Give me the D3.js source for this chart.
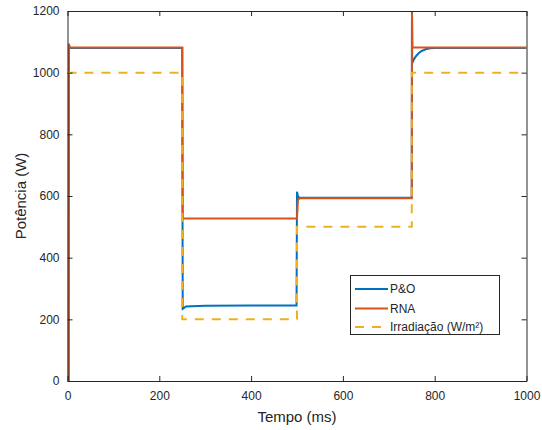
<!DOCTYPE html>
<html>
<head>
<meta charset="utf-8">
<script src="https://cdn.jsdelivr.net/npm/d3@7"></script>
<style>
  body { margin: 0; background: #fff; }
  svg { display: block; }
  text { font-family: "Liberation Sans", Arial, Helvetica, sans-serif; }
</style>
</head>
<body>
<svg id="chart" width="542" height="430"></svg>
<script>
// ---- data (time in ms, power in W) ----
const seriesNames = ["P&O", "RNA", "Irradiação (W/m²)"];
const poTime  = [2.5, 3, 5, 250, 251, 253, 258, 300, 400, 499, 500, 502, 505, 750, 750.5, 751, 755, 760, 765, 770, 780, 790, 800, 1000];
const poValue = [0, 1090, 1080, 1080, 234, 236, 242, 244, 245, 245, 614, 600, 594, 594, 1260, 1030, 1044, 1055, 1063, 1069, 1076, 1079, 1080, 1080];
const rnaTime  = [2.5, 3, 5, 250, 251, 500, 502, 505, 750, 750.5, 751.5, 1000];
const rnaValue = [0, 1094, 1082, 1082, 527, 527, 585, 593, 593, 1195, 1082, 1082];
const irrTime  = [0, 250, 250, 500, 500, 750, 750, 1000];
const irrValue = [1000, 1000, 200, 200, 500, 500, 1000, 1000];
const xTicks = [0, 200, 400, 600, 800, 1000];
const yTicks = [0, 200, 400, 600, 800, 1000, 1200];
const xLabel = "Tempo (ms)";
const yLabel = "Potência (W)";

const colors = ["#0072BD", "#D95319", "#EDB120"];

const svg = d3.select("#chart");
const pL = 67.5, pR = 526.5, pT = 11, pB = 381;
const x = d3.scaleLinear().domain([0, 1000]).range([pL, pR]);
const y = d3.scaleLinear().domain([0, 1200]).range([pB, pT]);

svg.append("defs").append("clipPath").attr("id", "clip")
  .append("rect").attr("x", pL).attr("y", pT)
  .attr("width", pR - pL).attr("height", pB - pT);

const toPts = (t, v) => t.map((d, i) => [d, v[i]]);
const line = d3.line().x(d => x(d[0])).y(d => y(d[1]));

const g = svg.append("g").attr("clip-path", "url(#clip)");
g.append("path").attr("d", line(toPts(poTime, poValue)))
  .attr("fill", "none").attr("stroke", colors[0]).attr("stroke-width", 2);
g.append("path").attr("d", line(toPts(rnaTime, rnaValue)))
  .attr("fill", "none").attr("stroke", colors[1]).attr("stroke-width", 2);
g.append("path").attr("d", line(toPts(irrTime, irrValue)))
  .attr("fill", "none").attr("stroke", colors[2]).attr("stroke-width", 2)
  .attr("stroke-dasharray", "9,8");

// axes
const axColor = "#262626";
const fmt = d3.format("d");
const xAxisB = d3.axisBottom(x).tickValues(xTicks).tickFormat(fmt).tickSizeInner(-5).tickSizeOuter(0).tickPadding(10);
const xAxisT = d3.axisTop(x).tickValues(xTicks).tickSizeInner(-5).tickSizeOuter(0).tickFormat("");
const yAxisL = d3.axisLeft(y).tickValues(yTicks).tickFormat(fmt).tickSizeInner(-5).tickSizeOuter(0).tickPadding(8);
const yAxisR = d3.axisRight(y).tickValues(yTicks).tickSizeInner(-5).tickSizeOuter(0).tickFormat("");

function styleAxis(sel) {
  sel.select(".domain").attr("stroke", axColor).attr("stroke-width", 1);
  sel.selectAll(".tick line").attr("stroke", axColor);
  sel.selectAll(".tick text").attr("fill", axColor).style("font-size", "12px")
     .style("font-family", "'Liberation Sans', Arial, sans-serif");
}
svg.append("g").attr("transform", `translate(0,${pB})`).call(xAxisB).call(styleAxis);
svg.append("g").attr("transform", `translate(0,${pT})`).call(xAxisT).call(styleAxis);
svg.append("g").attr("transform", `translate(${pL},0)`).call(yAxisL).call(styleAxis);
svg.append("g").attr("transform", `translate(${pR},0)`).call(yAxisR).call(styleAxis);

svg.append("text").attr("x", (pL + pR) / 2).attr("y", 422)
  .attr("text-anchor", "middle").attr("fill", axColor).style("font-size", "15px").text(xLabel);
svg.append("text").attr("transform", `translate(26,${(pT + pB) / 2}) rotate(-90)`)
  .attr("text-anchor", "middle").attr("fill", axColor).style("font-size", "15px").text(yLabel);

// legend
const lg = svg.append("g");
lg.append("rect").attr("x", 350.5).attr("y", 275.5).attr("width", 149).attr("height", 59)
  .attr("fill", "#fff").attr("stroke", axColor).attr("stroke-width", 1);
const rows = [289, 308.5, 327];
seriesNames.forEach((name, i) => {
  lg.append("line").attr("x1", 355).attr("x2", 388).attr("y1", rows[i]).attr("y2", rows[i])
    .attr("stroke", colors[i]).attr("stroke-width", 2)
    .attr("stroke-dasharray", i === 2 ? "9,8" : null);
  lg.append("text").attr("x", 390).attr("y", rows[i]).attr("dy", "0.35em")
    .attr("fill", axColor).style("font-size", "12px").text(name);
});
</script>
</body>
</html>
